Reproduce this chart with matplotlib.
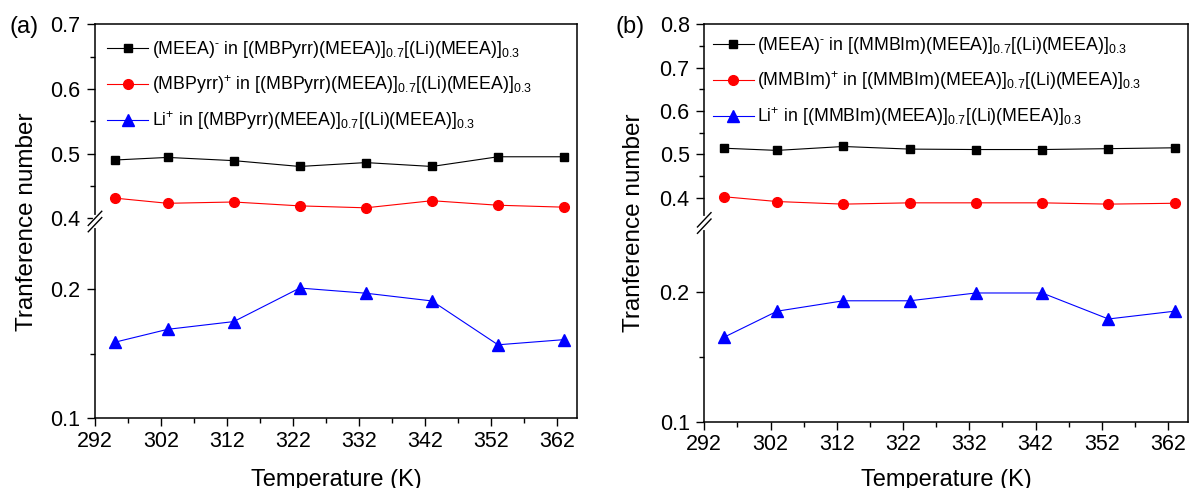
import matplotlib
matplotlib.use('Agg')
import matplotlib.pyplot as plt
import numpy as np
from matplotlib.ticker import FixedLocator, FormatStrFormatter

plt.rcParams['font.family'] = ['Liberation Sans', 'DejaVu Sans']
plt.rcParams['mathtext.fontset'] = 'custom'
plt.rcParams['mathtext.rm'] = 'Liberation Sans'
plt.rcParams['mathtext.default'] = 'regular'

temps = [295, 303, 313, 323, 333, 343, 353, 363]

# panel (a)
a_anion = [0.490, 0.494, 0.489, 0.480, 0.486, 0.480, 0.495, 0.495]
a_cation = [0.431, 0.423, 0.425, 0.419, 0.416, 0.427, 0.420, 0.417]
a_li = [0.159, 0.169, 0.175, 0.201, 0.197, 0.191, 0.157, 0.161]
a_labels = [r'(MEEA)$^{\text{-}}$ in [(MBPyrr)(MEEA)]$_{0.7}$[(Li)(MEEA)]$_{0.3}$',
            r'(MBPyrr)$^{+}$ in [(MBPyrr)(MEEA)]$_{0.7}$[(Li)(MEEA)]$_{0.3}$',
            r'Li$^{+}$ in [(MBPyrr)(MEEA)]$_{0.7}$[(Li)(MEEA)]$_{0.3}$']

# panel (b)
b_anion = [0.514, 0.509, 0.518, 0.512, 0.511, 0.511, 0.513, 0.515]
b_cation = [0.402, 0.391, 0.385, 0.388, 0.388, 0.388, 0.385, 0.387]
b_li = [0.165, 0.185, 0.193, 0.193, 0.199, 0.199, 0.179, 0.185]
b_labels = [r'(MEEA)$^{\text{-}}$ in [(MMBIm)(MEEA)]$_{0.7}$[(Li)(MEEA)]$_{0.3}$',
            r'(MMBIm)$^{+}$ in [(MMBIm)(MEEA)]$_{0.7}$[(Li)(MEEA)]$_{0.3}$',
            r'Li$^{+}$ in [(MMBIm)(MEEA)]$_{0.7}$[(Li)(MEEA)]$_{0.3}$']


def broken_scale(lo, up, f1, f2):
    d = [lo[0], lo[1], up[0], up[1]]
    t = [0.0, f1, f2, 1.0]
    fwd = lambda y: np.interp(y, d, t)
    inv = lambda y: np.interp(y, t, d)
    return fwd, inv


fig = plt.figure(figsize=(11.89, 4.88), dpi=100)

panels = [
    dict(rect=[0.0799, 0.1428, 0.4056, 0.8074], tag='(a)', tagx=0.008, lo=(0.1, 0.25), up=(0.4, 0.7),
         f=(0.491, 0.508), major=[0.1, 0.2, 0.4, 0.5, 0.6, 0.7], minor=[0.15, 0.45, 0.55, 0.65],
         ys=(a_anion, a_cation, a_li), labels=a_labels, leg=(0.025, 0.962),
         ylab=-0.118, xlab=-0.128),
    dict(rect=[0.5923, 0.1359, 0.4068, 0.8143], tag='(b)', tagx=0.518, lo=(0.1, 0.25), up=(0.35, 0.8),
         f=(0.4907, 0.5093), major=[0.1, 0.2, 0.4, 0.5, 0.6, 0.7, 0.8], minor=[0.15, 0.45, 0.55, 0.65, 0.75],
         ys=(b_anion, b_cation, b_li), labels=b_labels, leg=(0.0176, 0.972),
         ylab=-0.122, xlab=-0.12),
]

for p in panels:
    ax = fig.add_axes(p['rect'])
    fwd, inv = broken_scale(p['lo'], p['up'], *p['f'])
    ax.set_yscale('function', functions=(fwd, inv))
    ax.set_ylim(p['lo'][0], p['up'][1])
    ax.set_xlim(292, 365)

    styles = [('k', 's', 5.5), ('red', 'o', 7), ('blue', '^', 8)]
    for y, lab, (c, m, ms) in zip(p['ys'], p['labels'], styles):
        ax.plot(temps, y, color=c, marker=m, markersize=ms, lw=0.8, label=lab)

    ax.xaxis.set_major_locator(FixedLocator(np.arange(292, 363, 10)))
    ax.xaxis.set_minor_locator(FixedLocator(np.arange(297, 365, 10)))
    ax.yaxis.set_major_locator(FixedLocator(p['major']))
    ax.yaxis.set_minor_locator(FixedLocator(p['minor']))
    ax.yaxis.set_major_formatter(FormatStrFormatter('%.1f'))
    ax.tick_params(which='major', direction='out', length=5.5, width=1, labelsize=15.5, pad=5)
    ax.tick_params(which='minor', direction='out', length=3.5, width=1)
    ax.tick_params(axis='x', pad=3.5)
    for s in ax.spines.values():
        s.set_linewidth(1.1)

    ax.set_xlabel('Temperature (K)', fontsize=17, va='top')
    ax.xaxis.set_label_coords(0.5, p['xlab'])
    ax.set_ylabel('Tranference number', fontsize=17.5)
    ax.yaxis.set_label_coords(p['ylab'], 0.5)
    fig.text(p['tagx'], 0.945, p['tag'], fontsize=17, va='center', ha='left')

    # axis break on the left spine
    yb = (p['f'][0] + p['f'][1]) / 2
    ax.plot([0, 0], [yb - 0.012, yb + 0.012], color='white', lw=3, transform=ax.transAxes,
            clip_on=False, zorder=5)
    for dy in (-0.008, 0.008):
        ax.plot([-0.014, 0.014], [yb + dy - 0.018, yb + dy + 0.018], color='k', lw=1,
                transform=ax.transAxes, clip_on=False, zorder=6)

    ax.legend(loc='upper left', bbox_to_anchor=p['leg'], frameon=False, fontsize=12.8,
              handlelength=2.3, handletextpad=0.2, labelspacing=0.75, borderaxespad=0, borderpad=0)

fig.savefig('out.png', dpi=100)
